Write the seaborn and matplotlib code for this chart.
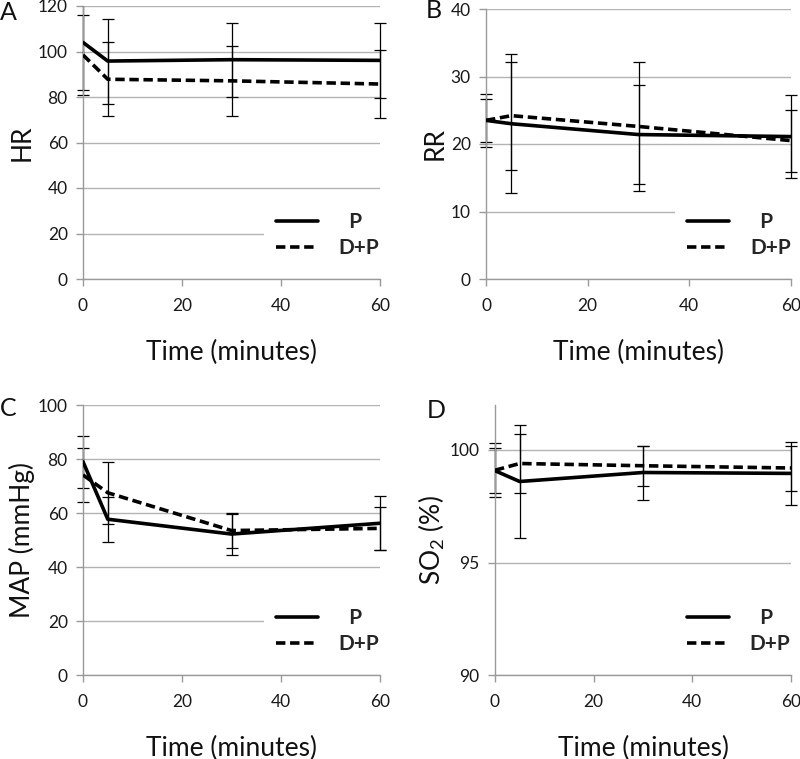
import matplotlib
matplotlib.use("Agg")
import matplotlib.pyplot as plt
import seaborn as sns
import pandas as pd
from matplotlib.lines import Line2D
from matplotlib.patches import Rectangle

# time points (minutes) and groups
times = [0, 5, 30, 60]
groups = ["P", "D+P"]

# heart rate
hr_p = [104.0, 95.8, 96.4, 96.1]
hr_p_sd = [21.0, 18.7, 16.2, 16.4]
hr_dp = [98.5, 87.8, 87.1, 85.7]
hr_dp_sd = [17.5, 16.3, 15.3, 15.0]

# respiratory rate
rr_p = [23.5, 23.0, 21.4, 21.1]
rr_p_sd = [3.9, 10.3, 7.3, 6.1]
rr_dp = [23.5, 24.2, 22.6, 20.5]
rr_dp_sd = [3.2, 8.0, 9.5, 4.6]

# mean arterial pressure
map_p = [79.0, 57.7, 52.2, 56.2]
map_p_sd = [9.7, 8.4, 7.6, 10.0]
map_dp = [74.1, 67.5, 53.5, 54.3]
map_dp_sd = [10.0, 11.5, 6.5, 8.0]

# oxygen saturation
so2_p = [99.08, 98.6, 99.0, 98.96]
so2_p_sd = [1.0, 2.5, 1.2, 1.4]
so2_dp = [99.1, 99.4, 99.3, 99.2]
so2_dp_sd = [1.2, 1.3, 0.9, 1.0]

sns.set_theme(style="white")
plt.rcParams["font.family"] = ["Lato", "DejaVu Sans"]
plt.rcParams["mathtext.fontset"] = "custom"
plt.rcParams["mathtext.rm"] = "Lato"

GRID = "#b3b3b3"
SPINE = "#9a9a9a"
DASH = (2.6, 1.3)

panels = [
    dict(letter="A", ylabel="HR", ylim=(0, 120), yticks=[0, 20, 40, 60, 80, 100, 120],
         p=hr_p, p_sd=hr_p_sd, dp=hr_dp, dp_sd=hr_dp_sd,
         rect=[83/800, 1-279/759, 297/800, 273/759], lpos=(0/800, 1-12/759)),
    dict(letter="B", ylabel="RR", ylim=(0, 40), yticks=[0, 10, 20, 30, 40],
         p=rr_p, p_sd=rr_p_sd, dp=rr_dp, dp_sd=rr_dp_sd,
         rect=[486/800, 1-279/759, 305/800, 270/759], lpos=(426/800, 1-10/759)),
    dict(letter="C", ylabel="MAP (mmHg)", ylim=(0, 100), yticks=[0, 20, 40, 60, 80, 100],
         p=map_p, p_sd=map_p_sd, dp=map_dp, dp_sd=map_dp_sd,
         rect=[83/800, 1-675/759, 297/800, 270/759], lpos=(0/800, 1-409/759)),
    dict(letter="D", ylabel="SO$_\\mathregular{2}$ (%)", ylim=(90, 102), yticks=[90, 95, 100],
         p=so2_p, p_sd=so2_p_sd, dp=so2_dp, dp_sd=so2_dp_sd,
         rect=[495/800, 1-675/759, 296/800, 270/759], lpos=(427/800, 1-410/759)),
]

fig = plt.figure(figsize=(8, 7.59), dpi=100)

for pn in panels:
    ax = fig.add_axes(pn["rect"])
    df = pd.DataFrame({
        "time": times * 2,
        "value": pn["p"] + pn["dp"],
        "group": [groups[0]] * len(times) + [groups[1]] * len(times),
    })
    sns.lineplot(data=df, x="time", y="value", style="group", style_order=groups,
                 dashes={"P": "", "D+P": DASH}, color="black", linewidth=2.6,
                 errorbar=None, legend=False, ax=ax, zorder=3)

    # clip error bars only at the top/bottom of the plot area, not the sides
    clip = Rectangle((-0.1, 0), 1.2, 1.0, transform=ax.transAxes, visible=False)
    ax.add_patch(clip)
    for vals, sd in [(pn["p"], pn["p_sd"]), (pn["dp"], pn["dp_sd"])]:
        eb = ax.errorbar(times, vals, yerr=sd, fmt="none", ecolor="black",
                         elinewidth=0.9, capsize=4, capthick=0.9, zorder=2)
        for art in eb.get_children():
            art.set_clip_path(clip)

    ax.set_xlim(0, 60)
    ax.set_ylim(*pn["ylim"])
    ax.set_xticks([0, 20, 40, 60])
    ax.set_yticks(pn["yticks"])
    ax.yaxis.grid(True, color=GRID, linewidth=1)
    ax.set_axisbelow(True)
    for s in ["top", "right"]:
        ax.spines[s].set_visible(False)
    for s in ["left", "bottom"]:
        ax.spines[s].set_color(SPINE)
        ax.spines[s].set_linewidth(1)
    ax.tick_params(axis="both", which="major", direction="out", length=5, width=1,
                   color=SPINE, labelsize=12.5, labelcolor="#1a1a1a", pad=6,
                   bottom=True, left=True)
    ax.tick_params(axis="x", pad=9)
    ax.set_xlabel("Time (minutes)", fontsize=19, labelpad=18, color="#111111")
    ax.set_ylabel(pn["ylabel"], fontsize=19, labelpad=2, color="#111111")

    handles = [Line2D([], [], color="black", linewidth=2.6),
               Line2D([], [], color="black", linewidth=2.6, dashes=DASH)]
    leg = ax.legend(handles, ["  P", "D+P"], loc="lower right",
                    bbox_to_anchor=(1.04, 0.03), frameon=True, facecolor="white",
                    edgecolor="none", framealpha=1, handlelength=2.0,
                    handletextpad=1.0, labelspacing=0.3, borderpad=0.6,
                    borderaxespad=0, prop={"weight": "bold", "size": 15})
    leg.set_zorder(5)

    fig.text(pn["lpos"][0], pn["lpos"][1], pn["letter"], fontsize=18,
             ha="left", va="center", color="#111111")

fig.savefig("out.png", dpi=100)
